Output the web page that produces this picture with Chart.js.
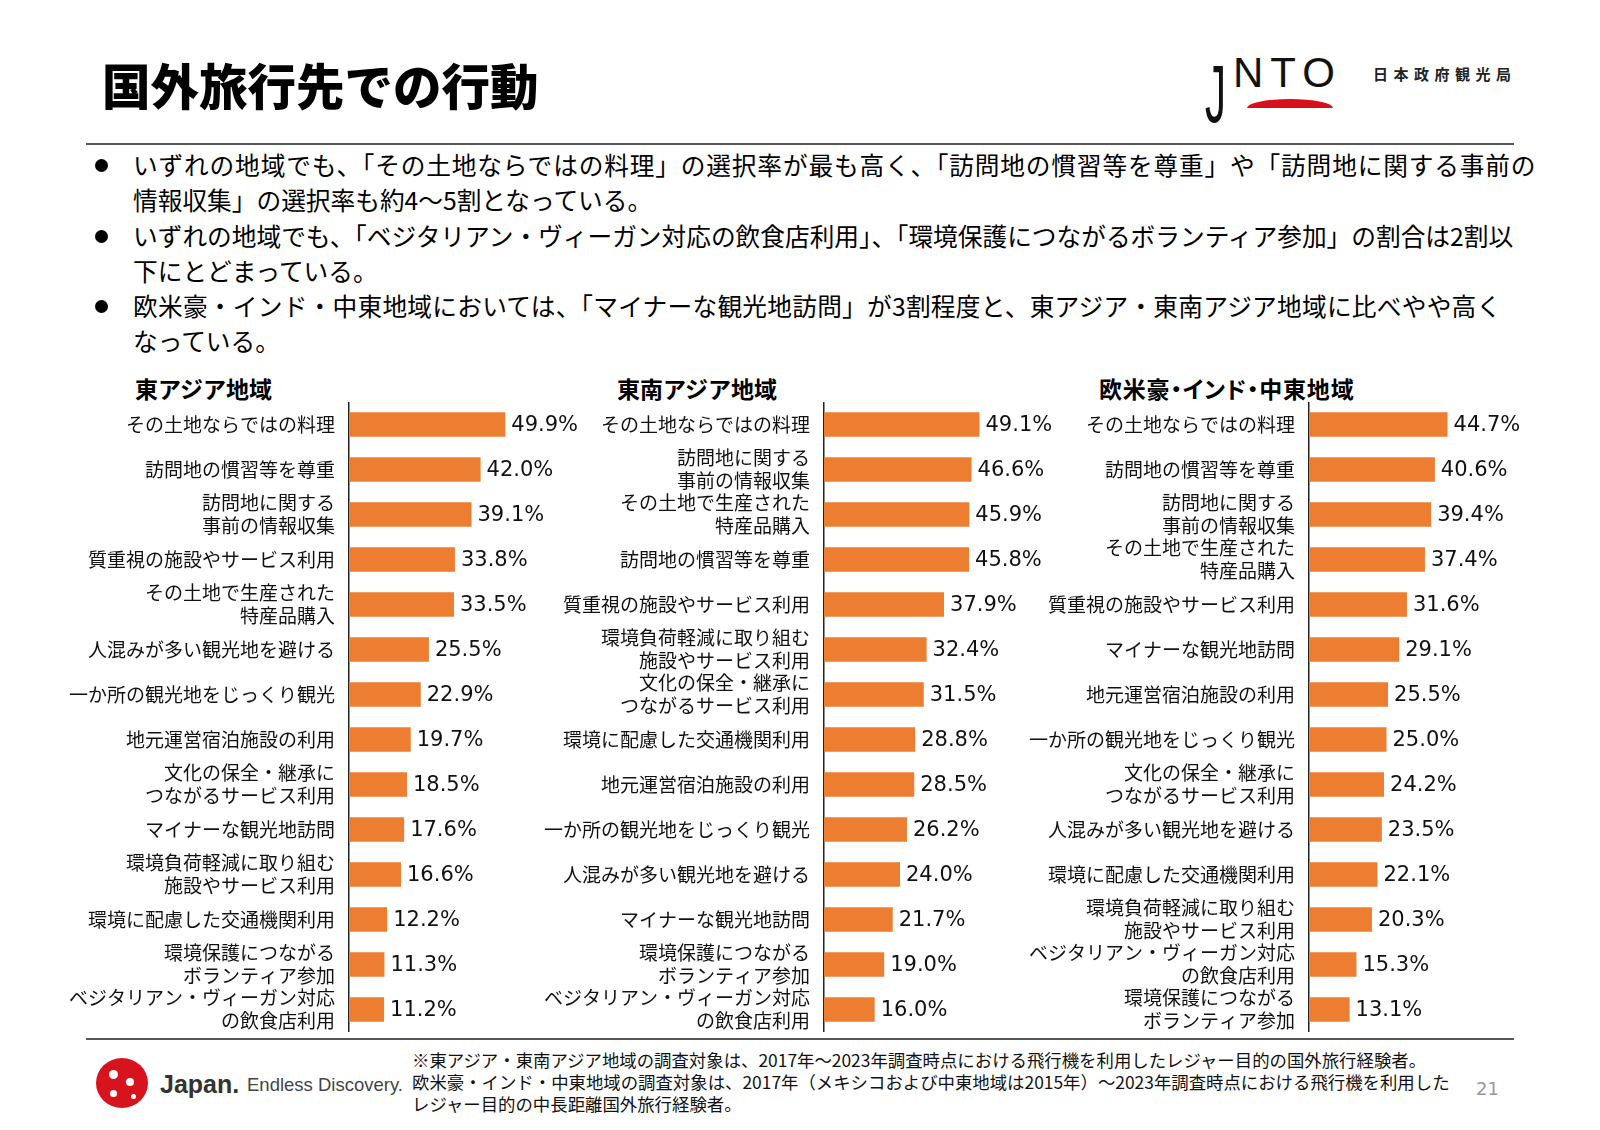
<!DOCTYPE html>
<html><head><meta charset="utf-8">
<script src="https://cdn.jsdelivr.net/npm/chart.js@4.4.1/dist/chart.umd.min.js"></script>
<style>
html,body{margin:0;padding:0;}
body{width:1600px;height:1130px;background:#fff;position:relative;overflow:hidden;font-family:"Noto Sans CJK JP","Noto Sans",sans-serif;color:#000;}
.abs{position:absolute;white-space:nowrap;}
.palt{font-feature-settings:"palt";}
#title{left:102px;top:58px;font-size:48.5px;line-height:52px;font-weight:900;}
.rule{position:absolute;left:86px;width:1428px;height:2px;background:#555;}
.bul{position:absolute;left:95px;width:13px;height:13px;border-radius:50%;background:#000;}
.btxt{left:133px;font-size:24.7px;line-height:35px;}
.ctitle{font-size:23px;line-height:26px;font-weight:700;}
canvas{position:absolute;}
#foot{left:412px;top:1049px;font-size:17.4px;line-height:22px;color:#111;}
</style></head><body>

<div id="title" class="abs">国外旅行先での行動</div>

<!-- JNTO logo -->
<div class="abs" style="left:1205px;top:50px;font-family:'Liberation Sans',sans-serif;font-size:42px;line-height:46px;letter-spacing:7px;color:#111;">
<span style="display:inline-block;transform:scaleY(1.95);transform-origin:top;font-weight:400;">J</span>NTO</div>
<div class="abs" style="left:1247px;top:99px;width:86px;height:9px;background:#d8101c;border-radius:50% 50% 0 0 / 100% 100% 0 0;"></div>
<div class="abs" style="left:1373px;top:64px;font-size:15px;line-height:20px;font-weight:700;letter-spacing:5.5px;color:#222;">日本政府観光局</div>

<div class="rule" style="top:143px;"></div>

<div class="bul" style="top:159px;"></div>
<div class="abs btxt" style="top:147px;"><span style="letter-spacing:0.84px;">いずれの地域でも、「その土地ならではの料理」の選択率が最も高く、「訪問地の慣習等を尊重」や「訪問地に関する事前の</span><br>情報収集」の選択率も約4～5割となっている。</div>
<div class="bul" style="top:230px;"></div>
<div class="abs btxt" style="top:218px;">いずれの地域でも、「ベジタリアン・ヴィーガン対応の飲食店利用」、「環境保護につながるボランティア参加」の割合は2割以<br>下にとどまっている。</div>
<div class="bul" style="top:300px;"></div>
<div class="abs btxt" style="top:288px;"><span style="letter-spacing:0.25px;">欧米豪・インド・中東地域においては、「マイナーな観光地訪問」が3割程度と、東アジア・東南アジア地域に比べやや高く</span><br>なっている。</div>

<div class="abs ctitle" style="left:135px;top:375px;">東アジア地域</div>
<div class="abs ctitle" style="left:617px;top:375px;">東南アジア地域</div>
<div class="abs ctitle palt" style="left:1099px;top:375px;letter-spacing:0.8px;">欧米豪・インド・中東地域</div>

<canvas id="c1" width="540" height="630" style="left:60px;top:402px;"></canvas>
<canvas id="c2" width="540" height="630" style="left:540px;top:402px;"></canvas>
<canvas id="c3" width="545" height="630" style="left:1020px;top:402px;"></canvas>

<div class="rule" style="top:1038px;"></div>

<!-- Japan. Endless Discovery. logo -->
<div class="abs" style="left:96px;top:1058px;width:52px;height:50px;border-radius:50%;background:#d7141e;"></div>
<div class="abs" style="left:109px;top:1070px;width:9px;height:9px;border-radius:50%;background:#fff;"></div>
<div class="abs" style="left:126px;top:1078px;width:8px;height:8px;border-radius:50%;background:#fff;"></div>
<div class="abs" style="left:110px;top:1090px;width:7px;height:7px;border-radius:50%;background:#fff;"></div>
<div class="abs" style="left:131px;top:1094px;width:5px;height:5px;border-radius:50%;background:#fff;"></div>
<div class="abs" style="left:160px;top:1069px;font-family:'Liberation Sans',sans-serif;font-size:25px;line-height:30px;font-weight:700;color:#333;">Japan.</div>
<div class="abs" style="left:247px;top:1073px;font-family:'Liberation Sans',sans-serif;font-size:18.5px;line-height:24px;color:#444;">Endless Discovery.</div>

<div id="foot" class="abs">※東アジア・東南アジア地域の調査対象は、2017年～2023年調査時点における飛行機を利用したレジャー目的の国外旅行経験者。<br>欧米豪・インド・中東地域の調査対象は、2017年（メキシコおよび中東地域は2015年）～2023年調査時点における飛行機を利用した<br>レジャー目的の中長距離国外旅行経験者。</div>
<div class="abs" style="left:1476px;top:1077px;font-family:'DejaVu Sans',sans-serif;font-size:18px;line-height:24px;color:#999;">21</div>

<script>
const eastAsiaLabels = [
  "その土地ならではの料理", "訪問地の慣習等を尊重", "訪問地に関する\n事前の情報収集",
  "質重視の施設やサービス利用", "その土地で生産された\n特産品購入", "人混みが多い観光地を避ける",
  "一か所の観光地をじっくり観光", "地元運営宿泊施設の利用", "文化の保全・継承に\nつながるサービス利用",
  "マイナーな観光地訪問", "環境負荷軽減に取り組む\n施設やサービス利用", "環境に配慮した交通機関利用",
  "環境保護につながる\nボランティア参加", "ベジタリアン・ヴィーガン対応\nの飲食店利用"
];
const eastAsiaValues = [49.9, 42.0, 39.1, 33.8, 33.5, 25.5, 22.9, 19.7, 18.5, 17.6, 16.6, 12.2, 11.3, 11.2];

const southeastAsiaLabels = [
  "その土地ならではの料理", "訪問地に関する\n事前の情報収集", "その土地で生産された\n特産品購入",
  "訪問地の慣習等を尊重", "質重視の施設やサービス利用", "環境負荷軽減に取り組む\n施設やサービス利用",
  "文化の保全・継承に\nつながるサービス利用", "環境に配慮した交通機関利用", "地元運営宿泊施設の利用",
  "一か所の観光地をじっくり観光", "人混みが多い観光地を避ける", "マイナーな観光地訪問",
  "環境保護につながる\nボランティア参加", "ベジタリアン・ヴィーガン対応\nの飲食店利用"
];
const southeastAsiaValues = [49.1, 46.6, 45.9, 45.8, 37.9, 32.4, 31.5, 28.8, 28.5, 26.2, 24.0, 21.7, 19.0, 16.0];

const westLabels = [
  "その土地ならではの料理", "訪問地の慣習等を尊重", "訪問地に関する\n事前の情報収集",
  "その土地で生産された\n特産品購入", "質重視の施設やサービス利用", "マイナーな観光地訪問",
  "地元運営宿泊施設の利用", "一か所の観光地をじっくり観光", "文化の保全・継承に\nつながるサービス利用",
  "人混みが多い観光地を避ける", "環境に配慮した交通機関利用", "環境負荷軽減に取り組む\n施設やサービス利用",
  "ベジタリアン・ヴィーガン対応\nの飲食店利用", "環境保護につながる\nボランティア参加"
];
const westValues = [44.7, 40.6, 39.4, 37.4, 31.6, 29.1, 25.5, 25.0, 24.2, 23.5, 22.1, 20.3, 15.3, 13.1];

const BAR_COLOR = "#ED7D31";

const valueLabelPlugin = {
  id: "valueLabels",
  afterDatasetsDraw(chart) {
    const ctx = chart.ctx;
    const meta = chart.getDatasetMeta(0);
    const data = chart.data.datasets[0].data;
    ctx.save();
    ctx.font = "21px 'DejaVu Sans', sans-serif";
    ctx.fillStyle = "#111";
    ctx.textAlign = "left";
    ctx.textBaseline = "middle";
    meta.data.forEach((bar, i) => {
      ctx.fillText(data[i].toFixed(1) + "%", bar.x + 6, bar.y + 1);
    });
    ctx.restore();
  }
};

function makeChart(id, labels, values, axisWidth, rightPad) {
  return new Chart(document.getElementById(id), {
    type: "bar",
    data: {
      labels: labels.map(s => s.split("\n")),
      datasets: [{
        data: values,
        backgroundColor: BAR_COLOR,
        borderWidth: 0,
        barPercentage: 1,
        categoryPercentage: 0.54
      }]
    },
    options: {
      indexAxis: "y",
      responsive: false,
      animation: false,
      devicePixelRatio: 1,
      layout: { padding: { top: 0, bottom: 0, left: 0, right: rightPad } },
      plugins: { legend: { display: false }, tooltip: { enabled: false }, title: { display: false } },
      scales: {
        x: { display: false, min: 0, max: 60 },
        y: {
          grid: { display: false, drawTicks: false },
          border: { display: true, color: "#222", width: 1.5 },
          ticks: {
            padding: 14,
            color: "#111",
            font: { family: "'Noto Sans CJK JP', sans-serif", size: 19, lineHeight: 1.24 },
            autoSkip: false
          },
          afterFit(scale) {
            scale.width = axisWidth;
            scale.paddingTop = 0;
            scale.paddingBottom = 0;
          }
        }
      }
    },
    plugins: [valueLabelPlugin]
  });
}

// axis x positions on page: chart1 349, chart2 824, chart3 1309
makeChart("c1", eastAsiaLabels, eastAsiaValues, 289, 540 - 289 - 188);
makeChart("c2", southeastAsiaLabels, southeastAsiaValues, 284, 540 - 284 - 190);
makeChart("c3", westLabels, westValues, 289, 545 - 289 - 186);
</script>
</body></html>
